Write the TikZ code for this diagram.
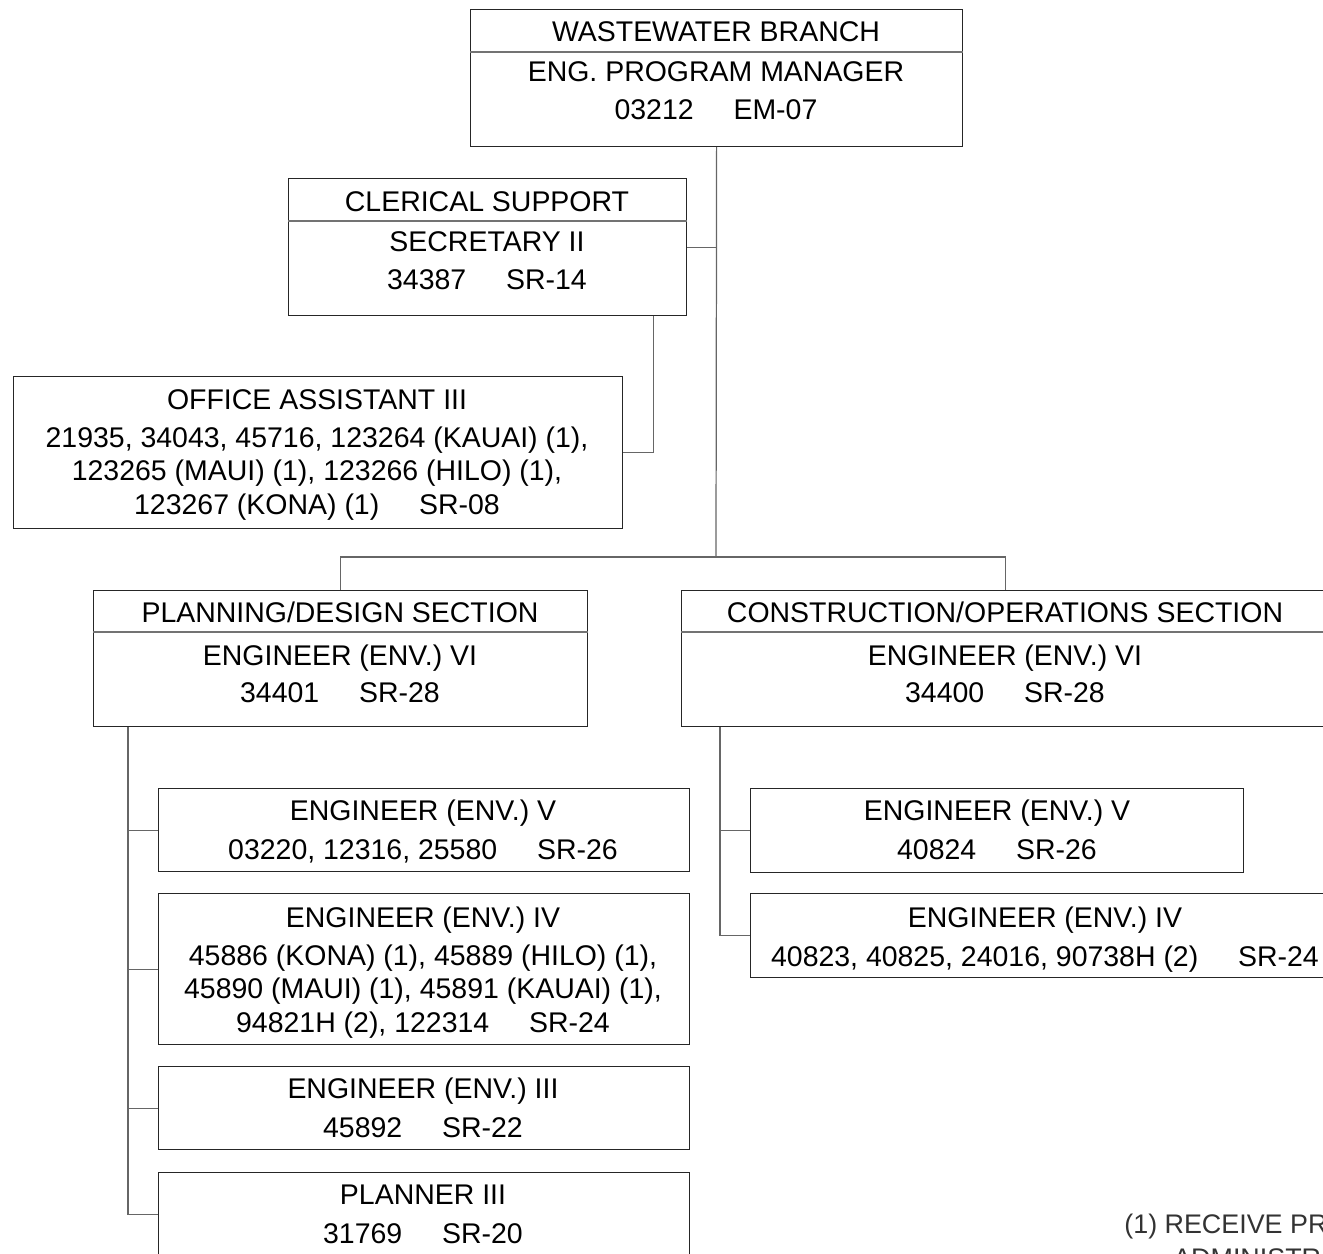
\documentclass[tikz,border=0pt]{standalone}
\usepackage{fontspec}
\setmainfont{Liberation Sans}
\newlength\px
\setlength\px{0.02cm}
\newcommand{\gap}{\hspace{1.4em}}
\tikzset{
  post/.style args={#1x#2}{draw=black!85, line width=0.7pt, inner sep=0pt,
    anchor=north west, minimum width=#1\px, minimum height=#2\px},
  posttext/.style={anchor=north, align=center, inner sep=0pt,
    font=\fontsize{16.2}{19}\selectfont},
  link/.style={draw=black!60, line width=0.7pt},
  divider/.style={draw=black!55, line width=0.7pt},
}
\begin{document}
\begin{tikzpicture}[x=0.02cm, y=-0.02cm]
    \useasboundingbox (0,0) rectangle (1323,1254);
    \clip (0,0) rectangle (1323,1254);

    % --- boxes ---
    \node[post=492x137] (branch) at (470,9) {};
    \node[post=398x137] (clerical) at (288,178) {};
    \node[post=609x152] (office) at (13,376) {};
    \node[post=494x136] (plan) at (93,590) {};
    \node[post=648x136] (cons) at (681,590) {};
    \node[post=531x83] (envVa) at (158,788) {};
    \node[post=531x151] (envIVa) at (158,893) {};
    \node[post=531x83] (envIIIa) at (158,1066) {};
    \node[post=531x83] (planner) at (158,1172) {};
    \node[post=493x84] (envVb) at (750,788) {};
    \node[post=590x84] (envIVb) at (750,893) {};

    % --- title rules ---
    \draw[divider] ([yshift=-43\px]branch.north west) -- ([yshift=-43\px]branch.north east);
    \draw[divider] ([yshift=-43\px]clerical.north west) -- ([yshift=-43\px]clerical.north east);
    \draw[divider] ([yshift=-42\px]plan.north west) -- ([yshift=-42\px]plan.north east);
    \draw[divider] ([yshift=-42\px]cons.north west) -- ([yshift=-42\px]cons.north east);

    % --- texts ---
    \node[posttext] (branchT) at (716,21.5)
        {WASTEWATER BRANCH\\[3.7pt] ENG. PROGRAM MANAGER\\[2.5pt] 03212\gap EM-07};
    \node[posttext] (clericalT) at (487,191.5)
        {CLERICAL SUPPORT\\[3.5pt] SECRETARY II\\[3pt] 34387\gap SR-14};
    \node[posttext] (officeT) at (317,389.5)
        {OFFICE ASSISTANT III\\[2.5pt]
         21935, 34043, 45716, 123264 (KAUAI) (1),\\
         123265 (MAUI) (1), 123266 (HILO) (1),\\
         123267 (KONA) (1)\gap SR-08};
    \node[posttext] (planT) at (340,601.5)
        {PLANNING/DESIGN SECTION\\[5.4pt] ENGINEER (ENV.) VI\\[2pt] 34401\gap SR-28};
    \node[posttext] (consT) at (1005,601.5)
        {CONSTRUCTION/OPERATIONS SECTION\\[5.4pt] ENGINEER (ENV.) VI\\[2pt] 34400\gap SR-28};
    \node[posttext] (envVaT) at (423,799.5)
        {ENGINEER (ENV.) V\\[3pt] 03220, 12316, 25580\gap SR-26};
    \node[posttext] (envIVaT) at (423,906.5)
        {ENGINEER (ENV.) IV\\[2.5pt]
         45886 (KONA) (1), 45889 (HILO) (1),\\
         45890 (MAUI) (1), 45891 (KAUAI) (1),\\
         94821H (2), 122314\gap SR-24};
    \node[posttext] (envIIIaT) at (423,1077.5)
        {ENGINEER (ENV.) III\\[3pt] 45892\gap SR-22};
    \node[posttext] (plannerT) at (423,1184.5)
        {PLANNER III\\[3pt] 31769\gap SR-20};
    \node[posttext] (envVbT) at (997,799.5)
        {ENGINEER (ENV.) V\\[3pt] 40824\gap SR-26};
    \node[posttext] (envIVbT) at (1045,906.5)
        {ENGINEER (ENV.) IV\\[3pt] 40823, 40825, 24016, 90738H (2)\gap SR-24};

    % --- connectors ---
    \coordinate (bar) at (716,557);
    \draw[link] (branch.south) -- (bar);
    \draw[link] (clerical.east) -- (clerical.east -| bar);
    \draw[link] ([xshift=-34\px]clerical.south east) |- (office.east);
    \draw[link] (plan.north) |- (bar) -| (cons.north);

    \coordinate (spineA) at ([xshift=35\px]plan.south west);
    \draw[link] (spineA) |- (planner.west);
    \foreach \b in {envVa,envIVa,envIIIa}
        \draw[link] (\b.west) -- (\b.west -| spineA);

    \coordinate (spineB) at ([xshift=39\px]cons.south west);
    \draw[link] (spineB) |- (envIVb.west);
    \draw[link] (envVb.west) -- (envVb.west -| spineB);

    % --- footnote ---
    \node[anchor=north west, align=left, inner sep=0pt, text=black!80,
          font=\fontsize{15.3}{19.3}\selectfont] (note) at (1124,1213.3)
        {(1) RECEIVE PR\\\hspace*{1.82em}ADMINISTRA};
\end{tikzpicture}
\end{document}
